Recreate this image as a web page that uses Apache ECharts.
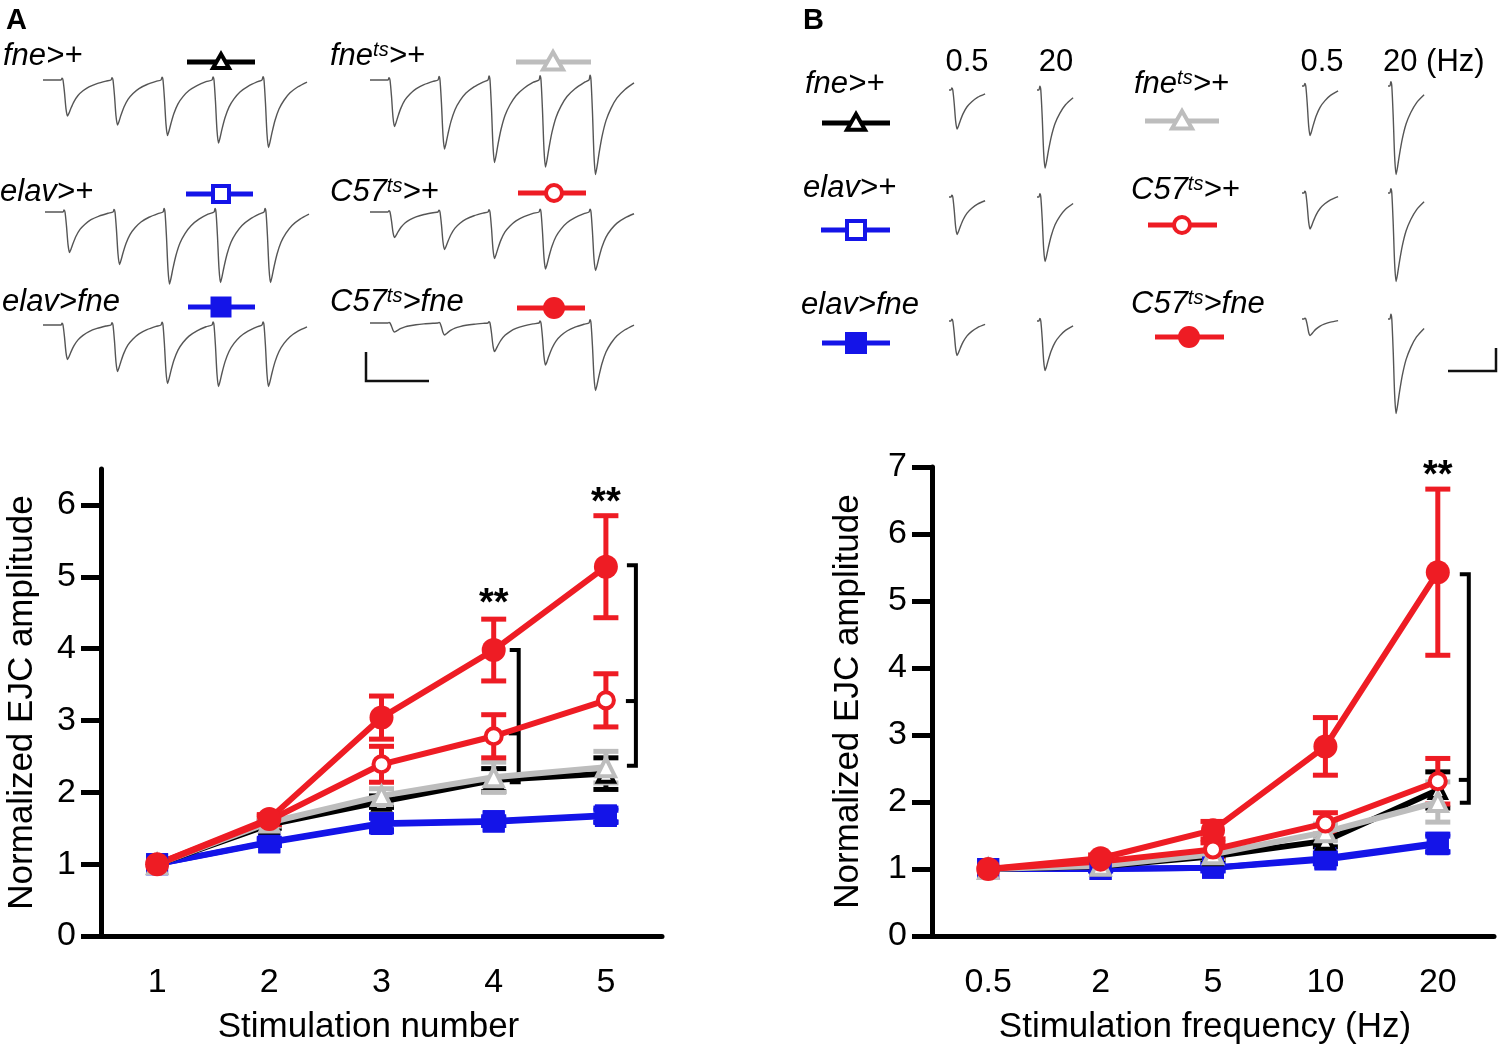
<!DOCTYPE html>
<html>
<head>
<meta charset="utf-8">
<script src="https://cdn.jsdelivr.net/npm/echarts@6/dist/echarts.min.js"></script>
<style>
html, body { margin: 0; padding: 0; background: #fff; }
#chart { width: 1505px; height: 1056px; }
</style>
</head>
<body>
<div id="chart"></div>
<script>

var FONT = 'Liberation Sans, Arial, Helvetica, sans-serif';

// ---------- panel A : normalized EJC amplitude vs stimulation number ----------
var stimNumber = ['1', '2', '3', '4', '5'];
var yTicksA = [0, 1, 2, 3, 4, 5, 6];

var a_elav        = [1.00, 1.30, 1.56, 1.59, 1.67];
var a_elav_sem    = [0, 0.04, 0.08, 0.05, 0.08];
var a_elavFne     = [1.00, 1.31, 1.57, 1.60, 1.68];
var a_elavFne_sem = [0, 0.05, 0.12, 0.06, 0.10];
var a_fne         = [1.00, 1.55, 1.87, 2.17, 2.26];
var a_fne_sem     = [0, 0.05, 0.08, 0.16, 0.22];
var a_fneTs       = [1.00, 1.58, 1.95, 2.21, 2.35];
var a_fneTs_sem   = [0, 0.05, 0.10, 0.21, 0.22];
var a_c57         = [1.00, 1.61, 2.39, 2.78, 3.28];
var a_c57_sem     = [0, 0.06, 0.25, 0.30, 0.37];
var a_c57Fne      = [1.00, 1.63, 3.04, 3.98, 5.14];
var a_c57Fne_sem  = [0, 0.06, 0.30, 0.43, 0.71];

// [category index, top, bottom, middle tick]
var a_brackets = [[3, 3.98, 2.14, 2.82], [4, 5.16, 2.37, 3.27]];
var a_stars    = [[3, 4.73], [4, 6.13]];

// ---------- panel B : normalized EJC amplitude vs stimulation frequency ----------
var stimFreq = ['0.5', '2', '5', '10', '20'];
var yTicksB = [0, 1, 2, 3, 4, 5, 6, 7];

var b_elav        = [1.00, 1.00, 1.02, 1.14, 1.37];
var b_elav_sem    = [0, 0.02, 0.04, 0.06, 0.12];
var b_elavFne     = [1.00, 1.00, 1.02, 1.16, 1.39];
var b_elavFne_sem = [0, 0.03, 0.05, 0.08, 0.13];
var b_fne         = [1.00, 1.04, 1.19, 1.42, 2.18];
var b_fne_sem     = [0, 0.03, 0.05, 0.09, 0.27];
var b_fneTs       = [1.00, 1.05, 1.22, 1.55, 2.00];
var b_fneTs_sem   = [0, 0.03, 0.06, 0.12, 0.30];
var b_c57         = [1.00, 1.11, 1.29, 1.68, 2.31];
var b_c57_sem     = [0, 0.04, 0.10, 0.16, 0.34];
var b_c57Fne      = [1.00, 1.16, 1.58, 2.83, 5.43];
var b_c57Fne_sem  = [0, 0.05, 0.13, 0.43, 1.24];

var b_brackets = [[4, 5.40, 1.99, 2.33]];
var b_stars    = [[4, 6.98]];

// ---------- example EJC traces (nA, ms) ----------
// single EJC waveform, normalized to its peak
var traceShape = [[-1, 0], [0, 0.05], [1, 0], [2.5, -0.35], [4, -0.8], [5.5, -1], [7, -0.92],
                  [9, -0.78], [12, -0.6], [16, -0.43], [21, -0.3], [27, -0.19], [35, -0.1], [44, -0.03]];
var trainStims = [19, 69, 119, 170, 220];
var trainEnd = 265;

// peak amplitude of each of the 5 EJCs in a train (panel A)
var trainAmp = {
  fne:     [24, 30, 37, 42, 45],
  fneTs:   [31, 46, 55, 58, 63],
  elav:    [27, 35, 48, 47, 47],
  c57:     [17, 25, 31, 38, 39],
  elavFne: [23, 31, 39, 41, 41],
  c57Fne:  [6, 8, 19, 28, 45]
};
// peak amplitude at 0.5 Hz and 20 Hz (panel B)
var freqAmp = {
  fne:     [26, 52],
  fneTs:   [33, 59],
  elav:    [25, 43],
  c57:     [24, 59],
  elavFne: [23, 33],
  c57Fne:  [11, 63]
};

// ---------- look ----------
var RED = '#ee1c24', BLUE = '#1414e8', GRAY = '#bdbdbd', BLACK = '#000';
var order = ['elav', 'elavFne', 'fne', 'fneTs', 'c57', 'c57Fne'];
var styles = {
  elav:    { name: 'elav>+',     color: BLUE,  symbol: 'rect',     size: 18, open: true },
  elavFne: { name: 'elav>fne',   color: BLUE,  symbol: 'rect',     size: 22, open: false },
  fne:     { name: 'fne>+',      color: BLACK, symbol: 'triangle', size: 16, open: true },
  fneTs:   { name: 'fne^ts>+',   color: GRAY,  symbol: 'triangle', size: 18, open: true },
  c57:     { name: 'C57^ts>+',   color: RED,   symbol: 'circle',   size: 16, open: true },
  c57Fne:  { name: 'C57^ts>fne', color: RED,   symbol: 'circle',   size: 24, open: false }
};

var grids = [], xAxes = [], yAxes = [], series = [], graphics = [];

// ---------- main plots ----------
function mainX(idx, cats, title, shiftLeft) {
  return {
    gridIndex: idx, type: 'category', data: cats, boundaryGap: true,
    axisLine: { lineStyle: { color: '#000', width: 5 } },
    axisTick: { alignWithLabel: true, length: 20, lineStyle: { color: '#000', width: 5 } },
    axisLabel: { color: '#000', fontSize: 34, fontFamily: FONT, margin: 30 },
    splitLine: { show: false },
    name: title, nameLocation: 'middle', nameGap: 74,
    nameTextStyle: { color: '#000', fontSize: 35, fontFamily: FONT, padding: [0, shiftLeft * 2, 0, 0] }
  };
}

function mainY(idx, max, ticks, gap) {
  return {
    gridIndex: idx, type: 'value', min: 0, max: max,
    axisLine: { show: true, lineStyle: { color: '#000', width: 5 } },
    axisTick: { show: true, length: 20, customValues: ticks, lineStyle: { color: '#000', width: 5 } },
    axisLabel: { customValues: ticks, color: '#000', fontSize: 34, fontFamily: FONT, margin: 25 },
    splitLine: { show: false },
    name: 'Normalized EJC amplitude', nameLocation: 'middle', nameGap: gap, nameRotate: 90,
    nameTextStyle: { color: '#000', fontSize: 35, fontFamily: FONT }
  };
}

function errSeries(idx, means, sems, color) {
  var data = means.map(function (m, i) { return [i, m - sems[i], m + sems[i]]; });
  return {
    type: 'custom', xAxisIndex: idx, yAxisIndex: idx, data: data, silent: true,
    encode: { x: 0, y: [1, 2] },
    renderItem: function (params, api) {
      if (api.value(2) - api.value(1) <= 0) return { type: 'group', children: [] };
      var hi = api.coord([api.value(0), api.value(2)]);
      var lo = api.coord([api.value(0), api.value(1)]);
      var w = 12.5;
      var s = { stroke: color, lineWidth: 5 };
      return {
        type: 'group', children: [
          { type: 'line', shape: { x1: hi[0], y1: hi[1], x2: lo[0], y2: lo[1] }, style: s },
          { type: 'line', shape: { x1: hi[0] - w, y1: hi[1], x2: hi[0] + w, y2: hi[1] }, style: s },
          { type: 'line', shape: { x1: lo[0] - w, y1: lo[1], x2: lo[0] + w, y2: lo[1] }, style: s }
        ]
      };
    }
  };
}

function lineSeries(idx, key, means) {
  var st = styles[key];
  return {
    type: 'line', name: st.name, xAxisIndex: idx, yAxisIndex: idx, data: means,
    symbol: st.symbol, symbolSize: st.size, showAllSymbol: true,
    lineStyle: { color: st.color, width: 6 },
    itemStyle: { color: st.open ? '#fff' : st.color, borderColor: st.color, borderWidth: st.open ? 4 : 0 },
    emphasis: { disabled: true }, silent: true
  };
}

function bracketSeries(idx, data, offsets) {
  return {
    type: 'custom', xAxisIndex: idx, yAxisIndex: idx, data: data, silent: true,
    encode: { x: 0, y: [1, 2] },
    renderItem: function (params, api) {
      var t = api.coord([api.value(0), api.value(1)]);
      var b = api.coord([api.value(0), api.value(2)]);
      var m = api.coord([api.value(0), api.value(3)]);
      var x = t[0] + offsets[params.dataIndex];
      var s = { stroke: '#000', lineWidth: 4, fill: null };
      return {
        type: 'group', children: [
          { type: 'polyline', shape: { points: [[x - 9, t[1]], [x, t[1]], [x, b[1]], [x - 9, b[1]]] }, style: s },
          { type: 'line', shape: { x1: x - 10, y1: m[1], x2: x, y2: m[1] }, style: s }
        ]
      };
    }
  };
}

function starSeries(idx, data) {
  return {
    type: 'custom', xAxisIndex: idx, yAxisIndex: idx, data: data, silent: true,
    renderItem: function (params, api) {
      var p = api.coord([api.value(0), api.value(1)]);
      return {
        type: 'text', x: p[0], y: p[1] + 8,
        style: { text: '**', fill: '#000', fontSize: 38, fontWeight: 'bold', fontFamily: FONT,
                 align: 'center', verticalAlign: 'middle' }
      };
    }
  };
}

grids.push({ left: 101, top: 469, width: 561, height: 467 });
xAxes.push(mainX(0, stimNumber, 'Stimulation number', 13));
yAxes.push(mainY(0, 6.5, yTicksA, 61));

grids.push({ left: 932, top: 467, width: 562, height: 469 });
xAxes.push(mainX(1, stimFreq, 'Stimulation frequency (Hz)', 8));
yAxes.push(mainY(1, 7, yTicksB, 66));

var panelA = { elav: [a_elav, a_elav_sem], elavFne: [a_elavFne, a_elavFne_sem], fne: [a_fne, a_fne_sem],
               fneTs: [a_fneTs, a_fneTs_sem], c57: [a_c57, a_c57_sem], c57Fne: [a_c57Fne, a_c57Fne_sem] };
var panelB = { elav: [b_elav, b_elav_sem], elavFne: [b_elavFne, b_elavFne_sem], fne: [b_fne, b_fne_sem],
               fneTs: [b_fneTs, b_fneTs_sem], c57: [b_c57, b_c57_sem], c57Fne: [b_c57Fne, b_c57Fne_sem] };

order.forEach(function (k) {
  series.push(errSeries(0, panelA[k][0], panelA[k][1], styles[k].color));
  series.push(lineSeries(0, k, panelA[k][0]));
});
order.forEach(function (k) {
  series.push(errSeries(1, panelB[k][0], panelB[k][1], styles[k].color));
  series.push(lineSeries(1, k, panelB[k][0]));
});
series.push(bracketSeries(0, a_brackets, [25, 30]));
series.push(bracketSeries(1, b_brackets, [31]));
series.push(starSeries(0, a_stars));
series.push(starSeries(1, b_stars));

// ---------- traces ----------
var PX_PER_NA = 1.5;
var TRACE_YMIN = -70, TRACE_YMAX = 6;

function addTrace(left, baseline, tMin, tMax, pxPerMs, data) {
  var idx = grids.length;
  grids.push({
    left: left, top: baseline - TRACE_YMAX * PX_PER_NA,
    width: (tMax - tMin) * pxPerMs, height: (TRACE_YMAX - TRACE_YMIN) * PX_PER_NA
  });
  xAxes.push({ gridIndex: idx, type: 'value', min: tMin, max: tMax, show: false });
  yAxes.push({ gridIndex: idx, type: 'value', min: TRACE_YMIN, max: TRACE_YMAX, show: false });
  series.push({
    type: 'line', xAxisIndex: idx, yAxisIndex: idx, data: data, showSymbol: false,
    smooth: 0.25, silent: true, lineStyle: { color: '#555', width: 1.4 }
  });
}

function trainData(amps) {
  var pts = [[0, 0]];
  trainStims.forEach(function (s, k) {
    var limit = k + 1 < trainStims.length ? trainStims[k + 1] - 1 : trainEnd;
    traceShape.forEach(function (p) {
      var t = s + p[0];
      if (t <= limit) pts.push([t, p[1] * amps[k]]);
    });
  });
  return pts;
}

function singleData(amp) {
  var pts = [[-3, 0]];
  traceShape.forEach(function (p) {
    if (p[0] <= 36) pts.push([p[0], p[1] * amp]);
  });
  return pts;
}

// panel A trains: where each one sits
var trainPos = {
  fne: [43, 80], fneTs: [370, 80],
  elav: [45, 212], c57: [370, 212],
  elavFne: [43, 325], c57Fne: [370, 323]
};
order.forEach(function (k) {
  addTrace(trainPos[k][0], trainPos[k][1], 0, trainEnd, 1, trainData(trainAmp[k]));
});

// panel B single EJCs: x of the 0.5 Hz and 20 Hz columns, baseline
var singlePos = {
  fne: [949, 1037, 90], fneTs: [1302, 1388, 86],
  elav: [949, 1037, 197], c57: [1302, 1388, 193],
  elavFne: [949, 1037, 321], c57Fne: [1302, 1388, 319]
};
order.forEach(function (k) {
  var p = singlePos[k];
  addTrace(p[0], p[2], -3, 36, 0.95, singleData(freqAmp[k][0]));
  addTrace(p[1], p[2], -3, 36, 0.95, singleData(freqAmp[k][1]));
});

// ---------- labels, legend keys, scale bars ----------
function richName(name) {
  var parts = name.split('^');
  var out = '{i|' + parts[0] + '}';
  if (parts[1]) {
    var m = parts[1].match(/^([a-z]+)(.*)$/);
    out += '{s|' + m[1] + '}{i|' + m[2] + '}';
  }
  return out;
}

function nameText(key, x, y) {
  graphics.push({
    type: 'text', x: x, y: y, silent: true,
    style: {
      text: richName(styles[key].name), align: 'left', verticalAlign: 'middle',
      rich: {
        i: { fontSize: 31, fontStyle: 'italic', fontFamily: FONT, fill: '#000' },
        s: { fontSize: 20, fontStyle: 'italic', fontFamily: FONT, fill: '#000', verticalAlign: 'top' }
      }
    }
  });
}

function plainText(txt, x, y, align, bold) {
  graphics.push({
    type: 'text', x: x, y: y, silent: true,
    style: { text: txt, fill: '#000', fontSize: bold ? 29 : 31, fontWeight: bold ? 'bold' : 'normal',
             fontFamily: FONT, align: align, verticalAlign: 'middle' }
  });
}

function legendKey(key, x1, x2, cy, cx, size) {
  var st = styles[key];
  var fill = st.open ? '#fff' : st.color;
  var h = size / 2;
  graphics.push({ type: 'line', silent: true, shape: { x1: x1, y1: cy, x2: x2, y2: cy },
                  style: { stroke: st.color, lineWidth: 5 } });
  var mk;
  if (st.symbol === 'triangle') {
    mk = { type: 'polygon', shape: { points: [[cx, cy - h], [cx + h, cy + h * 0.75], [cx - h, cy + h * 0.75]] } };
  } else if (st.symbol === 'rect') {
    mk = { type: 'rect', shape: { x: cx - h, y: cy - h, width: size, height: size } };
  } else {
    mk = { type: 'circle', shape: { cx: cx, cy: cy, r: h } };
  }
  mk.silent = true;
  mk.style = { fill: fill, stroke: st.color, lineWidth: st.open ? 4 : 0 };
  graphics.push(mk);
}

function scaleBar(points) {
  graphics.push({ type: 'polyline', silent: true, shape: { points: points },
                  style: { stroke: '#111', lineWidth: 2.5, fill: null } });
}

// panel A header
plainText('A', 6, 21, 'left', true);
nameText('fne', 3, 56);      legendKey('fne', 187, 255, 62, 221, 16);
nameText('fneTs', 330, 56);  legendKey('fneTs', 516, 591, 62, 553, 20);
nameText('elav', 0, 192);    legendKey('elav', 186, 253, 194, 221, 16);
nameText('c57', 330, 192);   legendKey('c57', 518, 586, 193, 554, 16);
nameText('elavFne', 2, 302); legendKey('elavFne', 188, 255, 307, 221, 21);
nameText('c57Fne', 330, 302); legendKey('c57Fne', 517, 585, 308, 554, 22);
scaleBar([[366, 352], [366, 381], [429, 381]]);

// panel B header
plainText('B', 803, 21, 'left', true);
plainText('0.5', 967, 62, 'center');
plainText('20', 1056, 62, 'center');
plainText('0.5', 1322, 62, 'center');
plainText('20 (Hz)', 1383, 62, 'left');
nameText('fne', 805, 84);       legendKey('fne', 822, 890, 123, 856, 18);
nameText('elav', 803, 188);     legendKey('elav', 821, 890, 230, 856, 18);
nameText('elavFne', 801, 305);  legendKey('elavFne', 822, 890, 343, 856, 22);
nameText('fneTs', 1134, 84);    legendKey('fneTs', 1145, 1219, 121, 1182, 20);
nameText('c57', 1131, 190);     legendKey('c57', 1148, 1217, 225, 1182, 16);
nameText('c57Fne', 1131, 304);  legendKey('c57Fne', 1155, 1224, 337, 1189, 22);
scaleBar([[1496, 348], [1496, 371], [1448, 371]]);

var chart = echarts.init(document.getElementById('chart'));
chart.setOption({
  animation: false,
  backgroundColor: '#fff',
  textStyle: { fontFamily: FONT },
  grid: grids,
  xAxis: xAxes,
  yAxis: yAxes,
  series: series,
  graphic: graphics
});

</script>
</body>
</html>
